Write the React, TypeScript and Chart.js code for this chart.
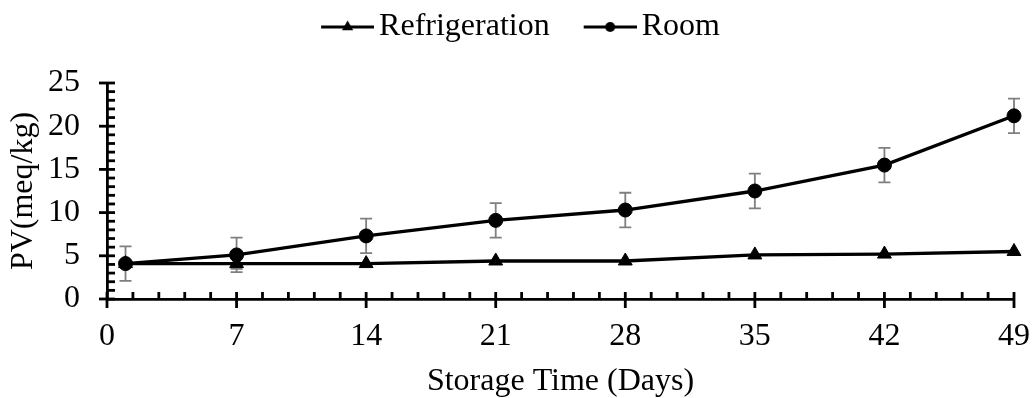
import React, { useEffect, useLayoutEffect, useRef } from "react";
import { Chart, registerables } from "chart.js";

Chart.register(...registerables);

// ---- data ----
const days = [1, 7, 14, 21, 28, 35, 42, 49];
const refrigeration = [4.1, 4.1, 4.1, 4.4, 4.4, 5.1, 5.2, 5.5];
const refrigerationErr = [0, 0.6, 0, 0, 0, 0, 0, 0];
const room = [4.1, 5.1, 7.3, 9.1, 10.3, 12.5, 15.5, 21.2];
const roomErr = [2, 2, 2, 2, 2, 2, 2, 2];
const xTicks = [0, 7, 14, 21, 28, 35, 42, 49];
const yTicks = [0, 5, 10, 15, 20, 25];
const seriesNames = ["Refrigeration", "Room"];
const xMinorStep = 1.4;
const yMinorStep = 1;

const FONT = "'Liberation Serif', 'Times New Roman', serif";
const FS = 32;
const LEGEND_BOX = 44;
const LEGEND_TOP = -21;

function makeLegendIcon(kind: "triangle" | "circle") {
  const half = FS / 2;
  const lineEnd = LEGEND_BOX + half - 5;
  const lineStart = lineEnd - 53;
  const W = 2 * (lineEnd - LEGEND_BOX / 2);
  const H = 20;
  const off = lineStart - (LEGEND_BOX / 2 - W / 2);
  const c = document.createElement("canvas");
  c.width = W;
  c.height = H;
  const g = c.getContext("2d")!;
  g.strokeStyle = "#000";
  g.fillStyle = "#000";
  g.lineWidth = 3;
  g.beginPath();
  g.moveTo(off, H / 2);
  g.lineTo(off + 53, H / 2);
  g.stroke();
  const cx = off + 26.5;
  const cy = H / 2;
  g.beginPath();
  if (kind === "circle") {
    g.arc(cx, cy, 5, 0, Math.PI * 2);
  } else {
    const r = 6.5;
    g.moveTo(cx, cy - r);
    g.lineTo(cx + r * 0.866, cy + r * 0.5);
    g.lineTo(cx - r * 0.866, cy + r * 0.5);
    g.closePath();
  }
  g.fill();
  return c;
}

const errorBarsPlugin = {
  id: "errorBars",
  beforeDatasetsDraw(chart: any) {
    const { ctx, scales } = chart;
    const x = scales.x;
    const y = scales.y;
    ctx.save();
    ctx.strokeStyle = "#7f7f7f";
    ctx.lineWidth = 1.8;
    chart.data.datasets.forEach((ds: any) => {
      const errs: number[] = ds.errors || [];
      ds.data.forEach((p: any, j: number) => {
        const e = errs[j] || 0;
        if (!e) return;
        const px = x.getPixelForValue(p.x);
        const top = y.getPixelForValue(p.y + e);
        const bot = y.getPixelForValue(p.y - e);
        ctx.beginPath();
        ctx.moveTo(px, top);
        ctx.lineTo(px, bot);
        ctx.moveTo(px - 6, top);
        ctx.lineTo(px + 6, top);
        ctx.moveTo(px - 6, bot);
        ctx.lineTo(px + 6, bot);
        ctx.stroke();
      });
    });
    ctx.restore();
  },
};

const axisTicksPlugin = {
  id: "axisTicks",
  afterDraw(chart: any) {
    const { ctx, scales, chartArea } = chart;
    const x = scales.x;
    const y = scales.y;
    ctx.save();
    ctx.strokeStyle = "#000";
    ctx.lineWidth = 2.8;
    const nx = Math.round((x.max - x.min) / xMinorStep);
    const majorEveryX = Math.round(7 / xMinorStep);
    for (let i = 0; i <= nx; i++) {
      const v = x.min + i * xMinorStep;
      const px = x.getPixelForValue(v);
      const major = i % majorEveryX === 0;
      ctx.beginPath();
      ctx.moveTo(px, chartArea.bottom - 7);
      ctx.lineTo(px, chartArea.bottom + (major ? 9 : 0));
      ctx.stroke();
    }
    const ny = Math.round((y.max - y.min) / yMinorStep);
    for (let i = 0; i <= ny; i++) {
      const v = y.min + i * yMinorStep;
      const py = y.getPixelForValue(v);
      const major = i % 5 === 0;
      ctx.beginPath();
      ctx.moveTo(chartArea.left - (major ? 8 : 0), py);
      ctx.lineTo(chartArea.left + 8, py);
      ctx.stroke();
    }
    ctx.restore();
  },
};

const legendShiftPlugin = {
  id: "legendShift",
  afterLayout(chart: any) {
    const lg = chart.legend;
    if (!lg) return;
    const h = lg.height;
    lg.top = LEGEND_TOP;
    lg.bottom = LEGEND_TOP + h;
  },
};

export default function App() {
  const ref = useRef<HTMLCanvasElement | null>(null);

  useLayoutEffect(() => {
    document.body.style.margin = "0";
  }, []);

  useEffect(() => {
    if (!ref.current) return;
    const icons = [makeLegendIcon("triangle"), makeLegendIcon("circle")];
    const font = { family: FONT, size: FS, lineHeight: 1 };
    const chart = new Chart(ref.current, {
      type: "line",
      data: {
        datasets: [
          {
            label: seriesNames[0],
            data: days.map((d, i) => ({ x: d, y: refrigeration[i] })),
            errors: refrigerationErr,
            borderColor: "#000",
            backgroundColor: "#000",
            borderWidth: 3.3,
            pointStyle: "triangle",
            pointRadius: 8,
            pointBackgroundColor: "#000",
            pointBorderColor: "#000",
            pointBorderWidth: 1,
            tension: 0,
            clip: false,
            order: 1,
          } as any,
          {
            label: seriesNames[1],
            data: days.map((d, i) => ({ x: d, y: room[i] })),
            errors: roomErr,
            borderColor: "#000",
            backgroundColor: "#000",
            borderWidth: 3.3,
            pointStyle: "circle",
            pointRadius: 7,
            pointBackgroundColor: "#000",
            pointBorderColor: "#000",
            pointBorderWidth: 1,
            tension: 0,
            clip: false,
            order: 0,
          } as any,
        ],
      },
      options: {
        animation: false,
        responsive: true,
        maintainAspectRatio: false,
        layout: { padding: { top: 9, left: 6, right: 0, bottom: 0 } },
        plugins: {
          tooltip: { enabled: false },
          legend: {
            display: true,
            position: "top",
            labels: {
              usePointStyle: true,
              pointStyleWidth: LEGEND_BOX,
              padding: 32,
              color: "#000",
              font: { family: FONT, size: FS },
              generateLabels(c: any) {
                const items = (Chart as any).defaults.plugins.legend.labels.generateLabels(c);
                items.sort((a: any, b: any) => a.datasetIndex - b.datasetIndex);
                items.forEach((it: any) => {
                  it.pointStyle = icons[it.datasetIndex];
                });
                return items;
              },
            },
          },
        },
        scales: {
          x: {
            type: "linear",
            min: 0,
            max: 49,
            afterBuildTicks(s: any) {
              s.ticks = xTicks.map((v) => ({ value: v }));
            },
            afterFit(s: any) {
              s.height = 99;
              s.paddingRight = 19;
            },
            ticks: { color: "#000", font, padding: 22, maxRotation: 0, autoSkip: false },
            grid: { display: false, drawTicks: false },
            border: { display: true, color: "#000", width: 2.8 },
            title: {
              display: true,
              text: "Storage Time (Days)",
              color: "#000",
              font,
              padding: { top: 0, bottom: 0 },
            },
          },
          y: {
            type: "linear",
            min: 0,
            max: 25,
            afterBuildTicks(s: any) {
              s.ticks = yTicks.map((v) => ({ value: v }));
            },
            afterFit(s: any) {
              s.width = 101;
            },
            ticks: { color: "#000", font, padding: 27, autoSkip: false },
            grid: { display: false, drawTicks: false },
            border: { display: true, color: "#000", width: 2.8 },
            title: {
              display: true,
              text: "PV(meq/kg)",
              color: "#000",
              font,
              padding: { top: 2, bottom: 0 },
            },
          },
        },
      } as any,
      plugins: [errorBarsPlugin, axisTicksPlugin, legendShiftPlugin],
    });
    return () => chart.destroy();
  }, []);

  return (
    <div style={{ width: 1033, height: 398, position: "relative" }}>
      <canvas ref={ref} />
    </div>
  );
}
